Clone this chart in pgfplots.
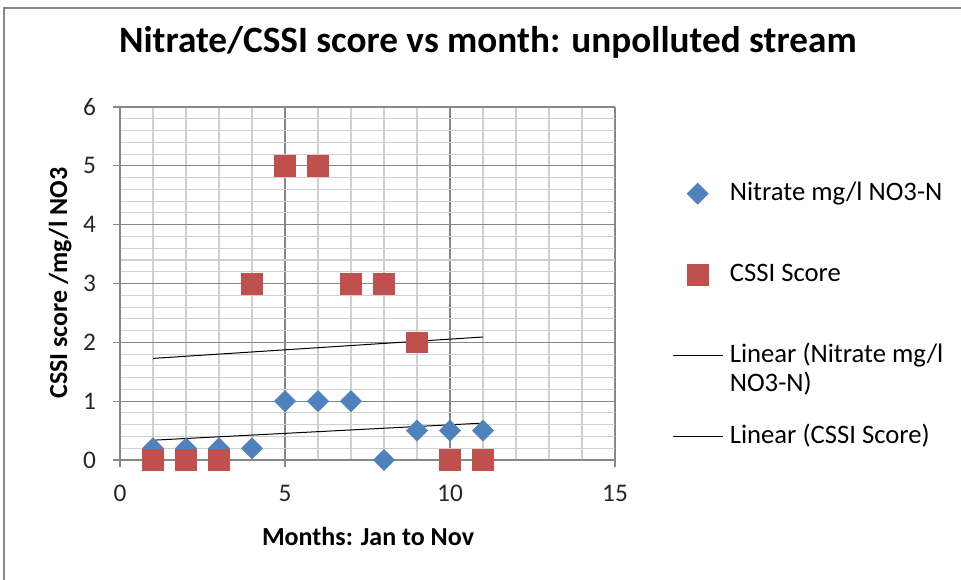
\documentclass[border=0pt]{standalone}
\usepackage{pgfplots}
\usepackage{pgfplotstable}
\pgfplotsset{compat=1.18}
\usepackage{fontspec}
\setmainfont{Carlito}

\definecolor{nitrate}{HTML}{4F81BD}
\definecolor{cssi}{HTML}{C0504D}
\definecolor{majgrid}{HTML}{878787}
\definecolor{mingrid}{HTML}{CFCFCF}

% Monthly readings, January (1) to November (11)
\pgfplotstableread{
month nitrate cssi
1  0.2 0
2  0.2 0
3  0.2 0
4  0.2 3
5  1.0 5
6  1.0 5
7  1.0 3
8  0.0 3
9  0.5 2
10 0.5 0
11 0.5 0
}\datatable

\begin{document}
\begin{tikzpicture}
\useasboundingbox (-90pt,-89.25pt) rectangle (630.75pt,345pt);
% chart frame
\draw[majgrid, line width=1.1pt] (-87pt,-95pt) -- (-87pt,339pt) -- (640pt,339pt);
\begin{axis}[
  scale only axis,
  width=371.25pt, height=264.75pt,
  xmin=0, xmax=15, ymin=0, ymax=6,
  xtick={0,5,10,15}, ytick={0,1,...,6},
  minor x tick num=4, minor y tick num=4,
  grid=both,
  major grid style={majgrid, line width=0.8pt},
  minor grid style={mingrid, line width=0.8pt},
  axis lines=left,
  axis line style={majgrid, line width=0.8pt, -},
  tick align=outside,
  major tick length=5.5pt, minor tick length=0pt,
  tick style={majgrid, line width=0.8pt},
  /pgf/number format/assume math mode=true,
  ticklabel style={font=\fontsize{19}{21}\selectfont, text=black!85},
  xticklabel style={yshift=-10pt},
  yticklabel style={xshift=-9pt},
  title={Nitrate/CSSI score vs month: unpolluted stream},
  title style={at={(axis description cs:0.743,1.161)}, anchor=center,
    font=\fontsize{27.9}{33}\selectfont\bfseries},
  xlabel={Months: Jan to Nov},
  xlabel style={at={(axis description cs:0.501,-0.218)}, anchor=center,
    font=\fontsize{19.5}{23}\selectfont\bfseries},
  ylabel={CSSI score /mg/l NO3},
  ylabel style={at={(axis description cs:-0.121,0.501)}, anchor=center,
    font=\fontsize{19.5}{23}\selectfont\bfseries},
  legend cell align=left,
  legend image code/.code={
    \draw[mark repeat=2, mark phase=2, #1]
      plot coordinates {(0pt,0pt) (18.75pt,0pt) (37.5pt,0pt)};},
  legend style={at={(axis description cs:1.115,0.793)}, anchor=north west,
    draw=none, fill=none, inner sep=0pt, row sep=40.75pt, column sep=5pt,
    font=\fontsize{20}{22}\selectfont,
    nodes={inner sep=0pt, text height=15pt, text depth=5pt}},
]
\addplot[only marks, mark=square*, mark size=5.6pt,
  mark options={rotate=45, fill=nitrate, draw=nitrate}]
  table[x=month, y=nitrate] {\datatable};
\addlegendentry{Nitrate mg/l NO3-N}
\addplot[only marks, mark=square*, mark size=7.8pt,
  mark options={fill=cssi, draw=cssi}]
  table[x=month, y=cssi] {\datatable};
\addlegendentry{CSSI Score}
\addplot[black, line width=0.75pt, no marks]
  table[x=month, y={create col/linear regression={y=nitrate}}] {\datatable};
\addlegendentry{\begin{tabular}[t]{@{}l@{}}Linear (Nitrate mg/l\\NO3-N)\end{tabular}}
\addplot[black, line width=0.75pt, no marks]
  table[x=month, y={create col/linear regression={y=cssi}}] {\datatable};
\addlegendentry{Linear (CSSI Score)}
\end{axis}
\end{tikzpicture}
\end{document}
